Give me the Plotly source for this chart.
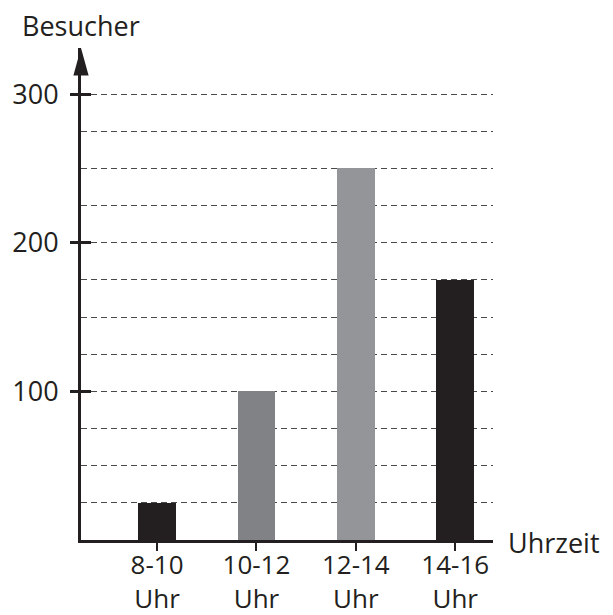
import plotly.graph_objects as go

# ---- data ----
zeitraeume = ["8-10", "10-12", "12-14", "14-16"]
besucher = [25, 100, 250, 175]
tick_text = ["8-10<br>Uhr", "10-12<br>Uhr", "12-14<br>Uhr", "14-16<br>Uhr"]
y_major = [100, 200, 300]
y_grid = [25, 50, 75, 125, 150, 175, 225, 250, 275]

# ---- style ----
bar_colors = ["#231f20", "#808285", "#939598", "#231f20"]
ink = "#231f20"
font_family = "Open Sans"
fs = 27

fig = go.Figure()
fig.add_trace(go.Bar(
    x=zeitraeume, y=besucher, marker=dict(color=bar_colors, line=dict(width=0)),
    width=0.38, showlegend=False,
))
# invisible trace to activate the overlay axis for crossing ticks
fig.add_trace(go.Scatter(x=zeitraeume, y=besucher, yaxis="y2", mode="none",
                         showlegend=False, hoverinfo="skip"))

ymax = 331
fig.update_layout(
    width=605, height=607,
    margin=dict(l=73, r=120, t=40, b=75),
    plot_bgcolor="white", paper_bgcolor="white",
    font=dict(family=font_family, size=fs, color=ink),
    xaxis=dict(
        type="category", range=[-0.765, 3.38], automargin=False,
        tickvals=zeitraeume, ticktext=tick_text,
        tickfont=dict(size=26),
        showline=True, linecolor=ink, linewidth=3,
        ticks="outside", ticklen=8, tickwidth=2, tickcolor=ink,
        showgrid=False, zeroline=False, ticklabelstandoff=-8,
    ),
    yaxis=dict(
        range=[0, ymax], tickvals=y_major, automargin=False,
        showline=True, linecolor=ink, linewidth=3,
        ticks="outside", ticklen=8, tickwidth=3, tickcolor=ink,
        showgrid=True, gridcolor="#4a4a4a", gridwidth=1, griddash="6px,4px",
        zeroline=False,
        minor=dict(tickvals=y_grid, showgrid=True, gridcolor="#4a4a4a",
                   gridwidth=1, griddash="6px,4px", ticks=""),
        ticklabelstandoff=6,
    ),
    yaxis2=dict(
        range=[0, ymax], overlaying="y", side="left", tickvals=y_major,
        showticklabels=False, ticks="inside", ticklen=10, tickwidth=3,
        tickcolor=ink, showgrid=False, zeroline=False, showline=False,
        automargin=False,
    ),
    bargap=0,
)

# arrow head on y axis
fig.add_shape(type="path", xref="paper", yref="paper",
              path="M 0 1 L 0.0185 0.944 L -0.0185 0.944 Z",
              fillcolor=ink, line=dict(width=0))

fig.add_annotation(text="Besucher", xref="paper", yref="paper", x=0, y=1,
                   xanchor="center", yanchor="middle", yshift=23,
                   showarrow=False, font=dict(size=fs, color=ink, family=font_family))
fig.add_annotation(text="Uhrzeit", xref="paper", yref="paper", x=1, y=0,
                   xanchor="left", yanchor="middle", xshift=13, yshift=-2,
                   showarrow=False, font=dict(size=fs, color=ink, family=font_family))

fig.write_html("out.html")
